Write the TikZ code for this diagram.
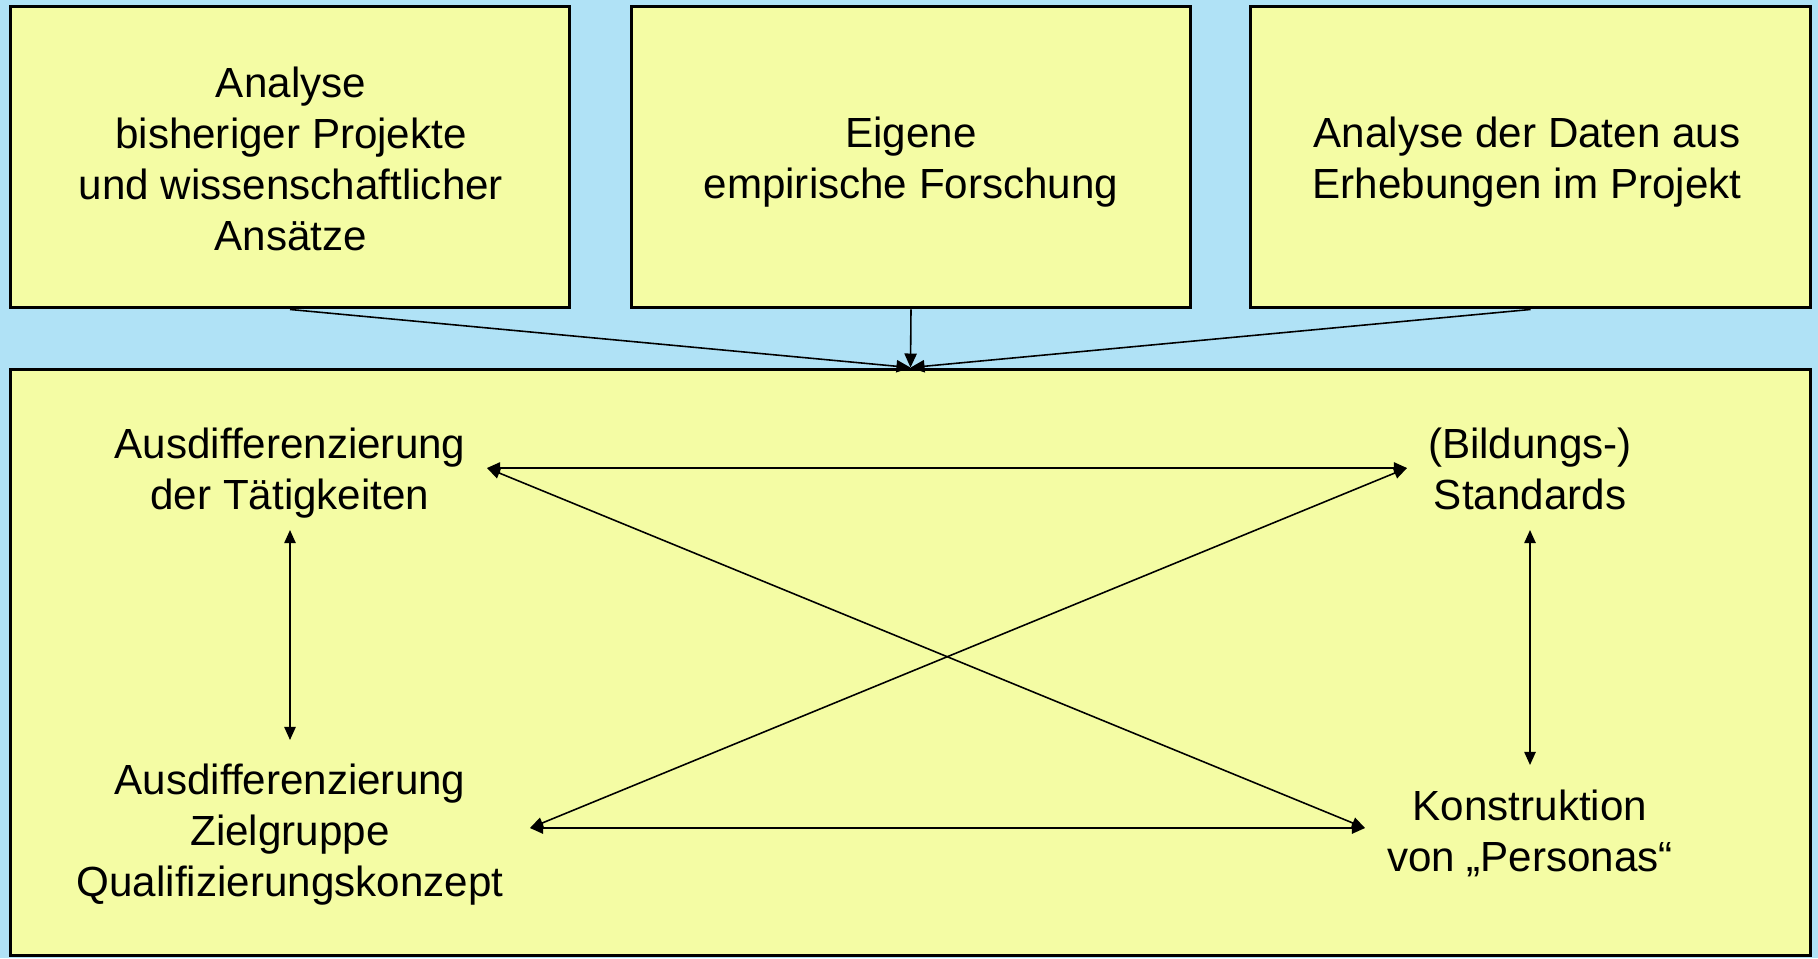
\documentclass[tikz,border=0pt]{standalone}
\usepackage{fontspec}
\setmainfont{Liberation Sans}
\usetikzlibrary{arrows.meta}
\definecolor{bgblue}{RGB}{176,226,246}
\definecolor{boxyellow}{RGB}{244,252,164}
\begin{document}
\begin{tikzpicture}[x=0.02cm,y=-0.02cm,
  box/.style={draw=black,line width=1.7pt,fill=boxyellow,align=center,font=\fontsize{24}{29}\selectfont,inner sep=0pt},
  lbl/.style={align=center,font=\fontsize{24}{29}\selectfont,inner sep=0pt},
  conn/.style={line width=0.9pt,-{Triangle[length=8pt,width=7pt]}},
  dbl/.style={line width=0.9pt,{Triangle[length=7.5pt,width=6.5pt]}-{Triangle[length=7.5pt,width=6.5pt]}}]
\fill[bgblue] (0,0) rectangle (1818,958);
\useasboundingbox (0,0) rectangle (1818,958);
% top boxes
\node[box,minimum width=11.2cm,minimum height=6.04cm] (b1) at (290,157) {};
\node[box,minimum width=11.2cm,minimum height=6.04cm] (b2) at (911,157) {};
\node[box,minimum width=11.22cm,minimum height=6.04cm] (b3) at (1530.5,157) {};
\node[lbl] (t1) at (291,159) {Analyse\\bisheriger Projekte\\und wissenschaftlicher\\Ansätze};
\node[lbl] (t2) at (911,162) {Eigene\\empirische Forschung};
\node[lbl] (t3) at (1527,162) {Analyse der Daten aus\\Erhebungen im Projekt};
% main box
\node[box,minimum width=36.02cm,minimum height=11.74cm] (main) at (910.5,662.5) {};
% arrows into main box
\draw[conn] (b1.south) -- (main.north);
\draw[conn] (b2.south) -- (main.north);
\draw[conn] (b3.south) -- (main.north);
% labels in main box
\node[lbl] (A) at (290,473) {Ausdifferenzierung\\der Tätigkeiten};
\node[lbl] (B) at (1530,469) {(Bildungs-)\\Standards};
\node[lbl] (C) at (290,835) {Ausdifferenzierung\\Zielgruppe\\Qualifizierungskonzept};
\node[lbl] (D) at (1530,833) {Konstruktion\\von „Personas“};
% arrow end points
\coordinate (Ar) at (487,468);
\coordinate (Bl) at (1407,468);
\coordinate (Cr) at (530,828);
\coordinate (Dl) at (1365,828);
\coordinate (Ab) at (290,530);
\coordinate (Ct) at (290,740);
\coordinate (Bb) at (1530,530);
\coordinate (Dt) at (1530,765);
% arrows
\draw[dbl] (Ar) -- (Bl);
\draw[dbl] (Cr) -- (Dl);
\draw[dbl] (Ar) -- (Dl);
\draw[dbl] (Bl) -- (Cr);
\draw[dbl] (Ab) -- (Ct);
\draw[dbl] (Bb) -- (Dt);
\end{tikzpicture}
\end{document}
